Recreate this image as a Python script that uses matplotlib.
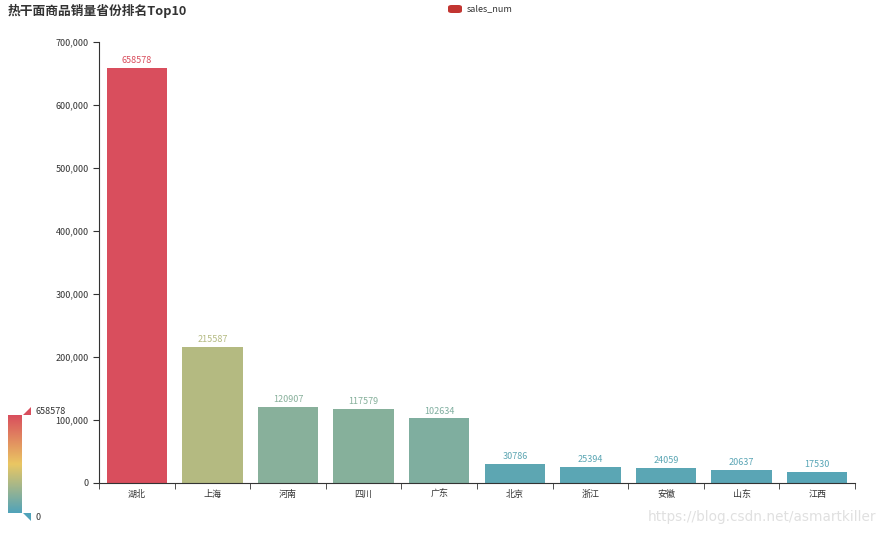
import matplotlib
matplotlib.use("Agg")
import matplotlib.pyplot as plt
import numpy as np
from matplotlib.colors import LinearSegmentedColormap
from matplotlib.patches import Polygon, FancyBboxPatch
from matplotlib.ticker import FuncFormatter

plt.rcParams['font.family'] = ['Noto Sans CJK SC', 'DejaVu Sans']

title = "热干面商品销量省份排名Top10"
provinces = ["湖北", "上海", "河南", "四川", "广东", "北京", "浙江", "安徽", "山东", "江西"]
sales_num = [658578, 215587, 120907, 117579, 102634, 30786, 25394, 24059, 20637, 17530]
y_ticks = [0, 100000, 200000, 300000, 400000, 500000, 600000, 700000]
vmin, vmax = 0, 658578

cmap = LinearSegmentedColormap.from_list("vm", ["#50a3ba", "#eac763", "#d94e5d"])

W, H = 886, 535
fig = plt.figure(figsize=(W / 100, H / 100), dpi=100)

def fx(px):
    return px / W

def fy(py):
    return 1 - py / H

ax = fig.add_axes([fx(99), fy(483), fx(855) - fx(99), fy(42) - fy(483)])
x = np.arange(len(provinces))
colors = [cmap((v - vmin) / (vmax - vmin)) for v in sales_num]
ax.bar(x, sales_num, width=0.8, color=colors, edgecolor='none')
for xi, v, c in zip(x, sales_num, colors):
    ax.annotate(str(v), (xi, v), xytext=(0, 2), textcoords='offset points',
                ha='center', va='bottom', fontsize=6.5, color=c)

ax.set_xlim(-0.5, len(provinces) - 0.5)
ax.set_ylim(0, 700000)
ax.set_yticks(y_ticks)
ax.yaxis.set_major_formatter(FuncFormatter(lambda v, p: f"{int(v):,}"))
ax.set_xticks(x)
ax.set_xticklabels(provinces)
ax.set_xticks(np.arange(len(provinces) + 1) - 0.5, minor=True)
ax.tick_params(axis='x', which='major', length=0, labelsize=6.5, colors='#333333', pad=5)
ax.tick_params(axis='x', which='minor', length=4, color='#333333', direction='out')
ax.tick_params(axis='y', length=4, labelsize=6.5, colors='#333333', color='#333333')
for s in ['top', 'right']:
    ax.spines[s].set_visible(False)
for s in ['left', 'bottom']:
    ax.spines[s].set_color('#333333')
    ax.spines[s].set_linewidth(0.8)

# title
fig.text(fx(8), fy(11), title, fontsize=9.2, fontweight='bold', color='#333333',
         ha='left', va='center')

# legend
leg = FancyBboxPatch((fx(448), fy(13)), fx(14), fy(5) - fy(13),
                     boxstyle="round,pad=0,rounding_size=0.004",
                     transform=fig.transFigure, facecolor='#c23531', edgecolor='none')
fig.patches.append(leg)
fig.text(fx(467), fy(9), "sales_num", fontsize=6.5, color='#333333', ha='left', va='center')

# visual map
cax = fig.add_axes([fx(8), fy(513), fx(22) - fx(8), fy(415) - fy(513)])
grad = np.linspace(0, 1, 256).reshape(-1, 1)
cax.imshow(grad, aspect='auto', cmap=cmap, origin='lower', extent=[0, 1, 0, 1])
cax.set_axis_off()
tri_top = Polygon([[fx(23), fy(415)], [fx(31), fy(407)], [fx(31), fy(415)]],
                  closed=True, transform=fig.transFigure, facecolor='#d94e5d', edgecolor='none')
tri_bot = Polygon([[fx(23), fy(513)], [fx(31), fy(513)], [fx(31), fy(521)]],
                  closed=True, transform=fig.transFigure, facecolor='#50a3ba', edgecolor='none')
fig.patches.extend([tri_top, tri_bot])
fig.text(fx(35), fy(411), str(vmax), fontsize=6.5, color='#333333', ha='left', va='center')
fig.text(fx(35), fy(518), str(vmin), fontsize=6.5, color='#333333', ha='left', va='center')

# watermark
fig.text(fx(876), fy(517), "https://blog.csdn.net/asmartkiller", fontsize=9.8,
         color='#e0e0e0', ha='right', va='center', family='DejaVu Sans')

fig.savefig("out.png", dpi=100)
